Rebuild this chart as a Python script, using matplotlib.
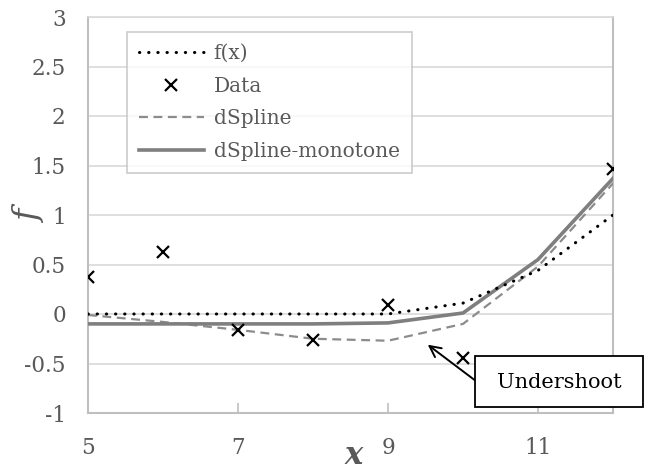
import matplotlib
matplotlib.use("Agg")
import matplotlib.pyplot as plt
from matplotlib.patches import Rectangle

# ---- data ----
x_grid = [5, 6, 7, 8, 9, 10, 11, 12]
f_true = [0.0, 0.0, 0.0, 0.0, 0.0, 0.11, 0.44, 1.0]
d_spline = [-0.01, -0.08, -0.16, -0.25, -0.27, -0.10, 0.48, 1.32]
d_spline_mono = [-0.10, -0.10, -0.10, -0.10, -0.09, 0.01, 0.55, 1.37]
data_x = [5, 6, 7, 8, 9, 10, 12]
data_y = [0.37, 0.63, -0.16, -0.26, 0.09, -0.44, 1.46]
x_ticks = [5, 7, 9, 11]
y_ticks = [-1, -0.5, 0, 0.5, 1, 1.5, 2, 2.5, 3]
y_ticklabels = ["-1", "-0.5", "0", "0.5", "1", "1.5", "2", "2.5", "3"]
arrow_head = (9.53, -0.31)
arrow_tail = (10.16, -0.67)

W, H = 650, 470
fig = plt.figure(figsize=(6.5, 4.7), dpi=100)
ax = fig.add_axes([88 / W, 1 - 413 / H, (613 - 88) / W, (413 - 17) / H])

serif = "DejaVu Serif"
tick_gray = "#595959"
grid_gray = "#d9d9d9"
axis_gray = "#bfbfbf"

ax.set_xlim(5, 12)
ax.set_ylim(-1, 3)
ax.set_yticks(y_ticks)
ax.set_yticklabels(y_ticklabels)
ax.set_xticks(x_ticks)
ax.yaxis.grid(True, color=grid_gray, linewidth=1.2)
ax.set_axisbelow(True)
for side in ["left", "bottom", "right"]:
    ax.spines[side].set_color(axis_gray)
    ax.spines[side].set_linewidth(1.5)
ax.spines["top"].set_color(grid_gray)
ax.spines["top"].set_linewidth(1.2)

ax.tick_params(axis="x", direction="in", length=7, width=1.2, color=axis_gray,
               pad=17, labelsize=15.5, labelcolor=tick_gray)
ax.tick_params(axis="y", length=0, pad=16, labelsize=15.5, labelcolor=tick_gray)
for lab in ax.get_xticklabels() + ax.get_yticklabels():
    lab.set_family(serif)

l1, = ax.plot(x_grid, f_true, color="black", linestyle=(0, (0.1, 2.9)),
              linewidth=2.2, dash_capstyle="round", label="f(x)", zorder=4)
l2, = ax.plot(data_x, data_y, linestyle="none", marker="x", color="black",
              markersize=8, markeredgewidth=1.6, label="Data", zorder=5)
l3, = ax.plot(x_grid, d_spline, color="#8c8c8c", linestyle=(0, (4, 2.5)),
              linewidth=1.6, label="dSpline", zorder=3)
l4, = ax.plot(x_grid, d_spline_mono, color="#7f7f7f", linewidth=2.6,
              label="dSpline-monotone", zorder=3)

leg = ax.legend(handles=[l1, l2, l3, l4], loc="upper left",
                bbox_to_anchor=(127 / W, 1 - 32 / H), bbox_transform=fig.transFigure,
                borderaxespad=0, frameon=True, fancybox=False, shadow=False,
                prop={"family": serif, "size": 14.5}, handlelength=3.2,
                handletextpad=0.5, labelspacing=0.68, borderpad=0.6)
leg.get_frame().set_edgecolor(axis_gray)
leg.get_frame().set_linewidth(1.2)
for t in leg.get_texts():
    t.set_color(tick_gray)

# Undershoot callout
ax.annotate("", xy=arrow_head, xytext=arrow_tail, textcoords="data",
            arrowprops=dict(arrowstyle="->", color="black", lw=1.4,
                            shrinkA=0, shrinkB=0, mutation_scale=20),
            annotation_clip=False, zorder=6)
box = Rectangle((475 / W, 1 - 407 / H), (643 - 475) / W, (407 - 356) / H,
                transform=fig.transFigure, facecolor="white", edgecolor="black",
                linewidth=1.3, zorder=7)
fig.patches.append(box)
fig.text(559 / W, 1 - 382 / H, "Undershoot", fontsize=15, family=serif,
         color="black", ha="center", va="center", zorder=8)

fig.text(30 / W, 1 - 217 / H, "f", rotation=90, fontsize=24, family=serif,
         style="italic", color=tick_gray, ha="center", va="center")
fig.text(354 / W, 1 - 455 / H, "x", fontsize=22, family=serif,
         style="italic", weight="bold", color=tick_gray, ha="center", va="center")

fig.savefig("out.png", dpi=100)
